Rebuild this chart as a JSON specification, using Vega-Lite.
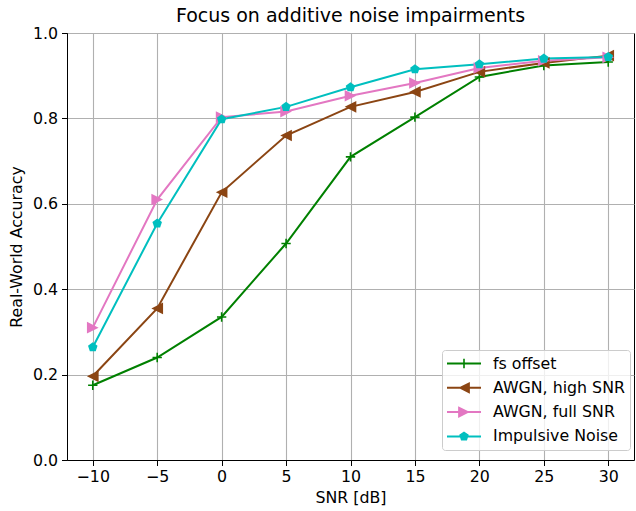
{
  "$schema": "https://vega.github.io/schema/vega-lite/v6.json",
  "width": 567,
  "height": 427,
  "autosize": {"type": "none"},
  "padding": {"left": 67, "top": 33, "right": 2, "bottom": 51},
  "title": {"text": "Focus on additive noise impairments", "fontSize": 19, "font": "DejaVu Sans", "fontWeight": "normal", "color": "black", "offset": -20, "baseline": "bottom", "anchor": "middle"},
  "config": {
    "font": "DejaVu Sans",
    "view": {"stroke": "black", "strokeWidth": 1},
    "axis": {
      "domainColor": "black", "domainWidth": 1,
      "gridColor": "#b0b0b0", "gridWidth": 1.1,
      "tickColor": "black", "tickSize": 5.5, "tickWidth": 1,
      "labelFont": "DejaVu Sans", "labelFontSize": 15.8, "labelColor": "black", "labelPadding": 4,
      "titleFont": "DejaVu Sans", "titleFontSize": 15.8, "titleFontWeight": "normal", "titleColor": "black"
    }
  },
  "data": {"values": [
    {"snr": -10, "acc": 0.175, "series": "fs offset"},
    {"snr": -5, "acc": 0.240, "series": "fs offset"},
    {"snr": 0, "acc": 0.335, "series": "fs offset"},
    {"snr": 5, "acc": 0.507, "series": "fs offset"},
    {"snr": 10, "acc": 0.710, "series": "fs offset"},
    {"snr": 15, "acc": 0.803, "series": "fs offset"},
    {"snr": 20, "acc": 0.897, "series": "fs offset"},
    {"snr": 25, "acc": 0.924, "series": "fs offset"},
    {"snr": 30, "acc": 0.932, "series": "fs offset"},
    {"snr": -10, "acc": 0.196, "series": "AWGN, high SNR"},
    {"snr": -5, "acc": 0.355, "series": "AWGN, high SNR"},
    {"snr": 0, "acc": 0.627, "series": "AWGN, high SNR"},
    {"snr": 5, "acc": 0.760, "series": "AWGN, high SNR"},
    {"snr": 10, "acc": 0.827, "series": "AWGN, high SNR"},
    {"snr": 15, "acc": 0.862, "series": "AWGN, high SNR"},
    {"snr": 20, "acc": 0.909, "series": "AWGN, high SNR"},
    {"snr": 25, "acc": 0.930, "series": "AWGN, high SNR"},
    {"snr": 30, "acc": 0.947, "series": "AWGN, high SNR"},
    {"snr": -10, "acc": 0.310, "series": "AWGN, full SNR"},
    {"snr": -5, "acc": 0.610, "series": "AWGN, full SNR"},
    {"snr": 0, "acc": 0.803, "series": "AWGN, full SNR"},
    {"snr": 5, "acc": 0.816, "series": "AWGN, full SNR"},
    {"snr": 10, "acc": 0.853, "series": "AWGN, full SNR"},
    {"snr": 15, "acc": 0.883, "series": "AWGN, full SNR"},
    {"snr": 20, "acc": 0.918, "series": "AWGN, full SNR"},
    {"snr": 25, "acc": 0.935, "series": "AWGN, full SNR"},
    {"snr": 30, "acc": 0.943, "series": "AWGN, full SNR"},
    {"snr": -10, "acc": 0.264, "series": "Impulsive Noise"},
    {"snr": -5, "acc": 0.554, "series": "Impulsive Noise"},
    {"snr": 0, "acc": 0.798, "series": "Impulsive Noise"},
    {"snr": 5, "acc": 0.827, "series": "Impulsive Noise"},
    {"snr": 10, "acc": 0.873, "series": "Impulsive Noise"},
    {"snr": 15, "acc": 0.915, "series": "Impulsive Noise"},
    {"snr": 20, "acc": 0.927, "series": "Impulsive Noise"},
    {"snr": 25, "acc": 0.940, "series": "Impulsive Noise"},
    {"snr": 30, "acc": 0.944, "series": "Impulsive Noise"}
  ]},
  "encoding": {
    "x": {"field": "snr", "type": "quantitative", "title": "SNR [dB]",
          "scale": {"domain": [-12, 32], "nice": false, "zero": false},
          "axis": {"values": [-10, -5, 0, 5, 10, 15, 20, 25, 30], "titlePadding": 6}},
    "y": {"field": "acc", "type": "quantitative", "title": "Real-World Accuracy",
          "scale": {"domain": [0, 1], "nice": false},
          "axis": {"values": [0, 0.2, 0.4, 0.6, 0.8, 1.0], "format": ".1f", "titlePadding": 8}}
  },
  "layer": [
    {
      "mark": {"type": "line", "strokeWidth": 2},
      "encoding": {
        "color": {"field": "series", "type": "nominal",
                  "scale": {"domain": ["fs offset", "AWGN, high SNR", "AWGN, full SNR", "Impulsive Noise"], "range": ["#008000", "#8b4513", "#e377c2", "#00bfbf"]},
                  "legend": null}
      }
    },
    {
      "mark": {"type": "point", "filled": true, "opacity": 1, "size": 121, "strokeWidth": 0},
      "encoding": {
        "color": {"field": "series", "type": "nominal", "legend": null},
        "shape": {"field": "series", "type": "nominal",
                  "scale": {"domain": ["fs offset", "AWGN, high SNR", "AWGN, full SNR", "Impulsive Noise"],
                            "range": [
                              "M-0.85,-0.145L0.85,-0.145L0.85,0.145L-0.85,0.145ZM-0.145,-0.85L0.145,-0.85L0.145,0.85L-0.145,0.85Z",
                              "M-1.06,0L1.06,-1.06L1.06,1.06Z",
                              "M1.06,0L-1.06,1.06L-1.06,-1.06Z",
                              "M0,-0.91L0.865,-0.281L0.535,0.736L-0.535,0.736L-0.865,-0.281Z"
                            ]},
                  "legend": null}
      }
    },
    {
      "transform": [{"filter": "datum.snr > 1000"}],
      "mark": {"type": "point", "filled": true, "opacity": 1, "strokeWidth": 0},
      "encoding": {
        "color": {"field": "series", "type": "nominal",
                  "legend": {"title": null, "orient": "none", "legendX": 375, "legendY": 317,
                             "padding": 5, "symbolSize": 289, "symbolStrokeWidth": 0, "symbolOpacity": 1,
                             "labelOffset": 29, "labelFontSize": 15.8, "labelFont": "DejaVu Sans", "labelColor": "black",
                             "rowPadding": 7.3, "fillColor": "rgba(255,255,255,0.8)", "strokeColor": "#cccccc", "cornerRadius": 3}},
        "shape": {"field": "series", "type": "nominal",
                  "scale": {"domain": ["fs offset", "AWGN, high SNR", "AWGN, full SNR", "Impulsive Noise"],
                            "range": [
                              "M-1,-0.118L3,-0.118L3,0.118L-1,0.118ZM0.906,-0.55L1.094,-0.55L1.094,0.55L0.906,0.55Z",
                              "M-1,-0.118L3,-0.118L3,0.118L-1,0.118ZM0.31,0L1.69,-0.69L1.69,0.69Z",
                              "M-1,-0.118L3,-0.118L3,0.118L-1,0.118ZM1.69,0L0.31,0.69L0.31,-0.69Z",
                              "M-1,-0.118L3,-0.118L3,0.118L-1,0.118ZM1,-0.59L1.561,-0.182L1.347,0.477L0.653,0.477L0.439,-0.182Z"
                            ]},
                  "legend": {"title": null, "orient": "none", "legendX": 375, "legendY": 317,
                             "padding": 5, "symbolSize": 289, "symbolStrokeWidth": 0, "symbolOpacity": 1,
                             "labelOffset": 29, "labelFontSize": 15.8, "labelFont": "DejaVu Sans", "labelColor": "black",
                             "rowPadding": 7.3, "fillColor": "rgba(255,255,255,0.8)", "strokeColor": "#cccccc", "cornerRadius": 3}}
      }
    }
  ],
  "resolve": {"scale": {"shape": "independent"}, "legend": {"shape": "independent", "color": "independent"}}
}
